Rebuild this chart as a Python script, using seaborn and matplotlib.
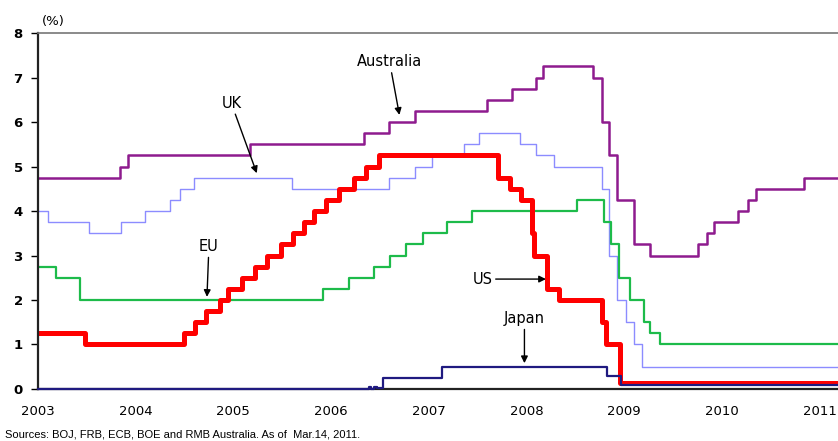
import seaborn as sns
import matplotlib.pyplot as plt
import pandas as pd

# policy rates, step changes (decimal year, %)
us_t = [2003.0, 2003.48, 2004.49, 2004.61, 2004.72, 2004.86, 2004.95, 2005.09, 2005.22, 2005.34,
        2005.49, 2005.61, 2005.72, 2005.83, 2005.95, 2006.08, 2006.24, 2006.36, 2006.49, 2007.71,
        2007.83, 2007.94, 2008.06, 2008.08, 2008.21, 2008.33, 2008.77, 2008.82, 2008.96, 2011.2]
us_r = [1.25, 1.0, 1.25, 1.5, 1.75, 2.0, 2.25, 2.5, 2.75, 3.0,
        3.25, 3.5, 3.75, 4.0, 4.25, 4.5, 4.75, 5.0, 5.25, 4.75,
        4.5, 4.25, 3.5, 3.0, 2.25, 2.0, 1.5, 1.0, 0.125, 0.125]

eu_t = [2003.0, 2003.18, 2003.43, 2005.92, 2006.18, 2006.44, 2006.6, 2006.77, 2006.94, 2007.19,
        2007.44, 2008.52, 2008.79, 2008.87, 2008.95, 2009.06, 2009.2, 2009.27, 2009.37, 2011.2]
eu_r = [2.75, 2.5, 2.0, 2.25, 2.5, 2.75, 3.0, 3.25, 3.5, 3.75,
        4.0, 4.25, 3.75, 3.25, 2.5, 2.0, 1.5, 1.25, 1.0, 1.0]

uk_t = [2003.0, 2003.1, 2003.52, 2003.85, 2004.1, 2004.35, 2004.45, 2004.6, 2005.6, 2006.59,
        2006.86, 2007.03, 2007.36, 2007.51, 2007.93, 2008.1, 2008.28, 2008.77, 2008.85, 2008.93,
        2009.02, 2009.1, 2009.18, 2011.2]
uk_r = [4.0, 3.75, 3.5, 3.75, 4.0, 4.25, 4.5, 4.75, 4.5, 4.75,
        5.0, 5.25, 5.5, 5.75, 5.5, 5.25, 5.0, 4.5, 3.0, 2.0,
        1.5, 1.0, 0.5, 0.5]

au_t = [2003.0, 2003.84, 2003.92, 2005.17, 2006.34, 2006.59, 2006.86, 2007.6, 2007.85, 2008.1,
        2008.17, 2008.68, 2008.77, 2008.85, 2008.93, 2009.1, 2009.27, 2009.76, 2009.85, 2009.92,
        2010.17, 2010.27, 2010.35, 2010.84, 2011.2]
au_r = [4.75, 5.0, 5.25, 5.5, 5.75, 6.0, 6.25, 6.5, 6.75, 7.0,
        7.25, 7.0, 6.0, 5.25, 4.25, 3.25, 3.0, 3.25, 3.5, 3.75,
        4.0, 4.25, 4.5, 4.75, 4.75]

jp_t = [2003.0, 2006.39, 2006.41, 2006.44, 2006.47, 2006.53, 2007.14, 2008.83, 2008.97, 2011.2]
jp_r = [0.0, 0.05, 0.01, 0.05, 0.02, 0.25, 0.5, 0.3, 0.1, 0.1]

years = list(range(2003, 2012))
source_note = "Sources: BOJ, FRB, ECB, BOE and RMB Australia. As of  Mar.14, 2011."

sns.set_style("white", {"text.color": "black", "xtick.color": "black", "ytick.color": "black"})
plt.rcParams['font.family'] = ['DejaVu Sans']

fig = plt.figure(figsize=(8.38, 4.41), dpi=100)
ax = fig.add_axes([0.0453, 0.118, 0.9547, 0.807])

sns.lineplot(x=au_t, y=au_r, ax=ax, color="#8E1B8E", lw=1.8, drawstyle="steps-post")
sns.lineplot(x=uk_t, y=uk_r, ax=ax, color="#8C8CFF", lw=1.0, drawstyle="steps-post")
sns.lineplot(x=eu_t, y=eu_r, ax=ax, color="#1DBB4A", lw=1.6, drawstyle="steps-post")
sns.lineplot(x=jp_t, y=jp_r, ax=ax, color="#1F1A80", lw=1.6, drawstyle="steps-post")
sns.lineplot(x=us_t, y=us_r, ax=ax, color="#FF0000", lw=3.6, drawstyle="steps-post")
ax.lines[3].set_clip_on(False)
ax.lines[3].set_zorder(5)

ax.set_xlim(2003, 2011.19)
ax.set_ylim(0, 8)
ax.set_xticks(years)
ax.set_xticklabels([str(y) for y in years], fontsize=9.5, color="black")
ax.set_yticks(range(0, 9))
ax.set_yticklabels([str(v) for v in range(0, 9)], fontsize=9.5, fontweight="bold", color="black")
ax.tick_params(axis="x", direction="inout", length=6.5, width=1, pad=8, color="black")
ax.tick_params(axis="y", direction="out", length=5, width=1, pad=6, left=True, color="black")
ax.set_xlabel("")
ax.set_ylabel("")

for s in ["left", "bottom"]:
    ax.spines[s].set_color("#222222")
    ax.spines[s].set_linewidth(1.6)
ax.spines["top"].set_color("#777777")
ax.spines["top"].set_linewidth(1.2)
ax.spines["right"].set_visible(False)

arrow = dict(arrowstyle="-|>", color="black", lw=1, mutation_scale=10, shrinkA=0, shrinkB=0)
lab = dict(ha="center", va="center", fontsize=10.5, color="black", arrowprops=arrow)
ax.annotate("Australia", xy=(2006.7, 6.16), xytext=(2006.6, 7.35), **lab)
ax.annotate("UK", xy=(2005.24, 4.85), xytext=(2004.98, 6.42), **lab)
ax.annotate("EU", xy=(2004.73, 2.07), xytext=(2004.75, 3.2), **lab)
ax.annotate("US", xy=(2008.2, 2.47), xytext=(2007.55, 2.47), **lab)
ax.annotate("Japan", xy=(2007.98, 0.58), xytext=(2007.98, 1.58), **lab)

fig.text(0.05, 0.952, "(%)", fontsize=9.5, ha="left", va="center", color="black")
fig.text(0.006, 0.004, source_note, fontsize=8, ha="left", va="bottom",
         family="Liberation Sans", color="black")

fig.savefig("out.png", dpi=100)
